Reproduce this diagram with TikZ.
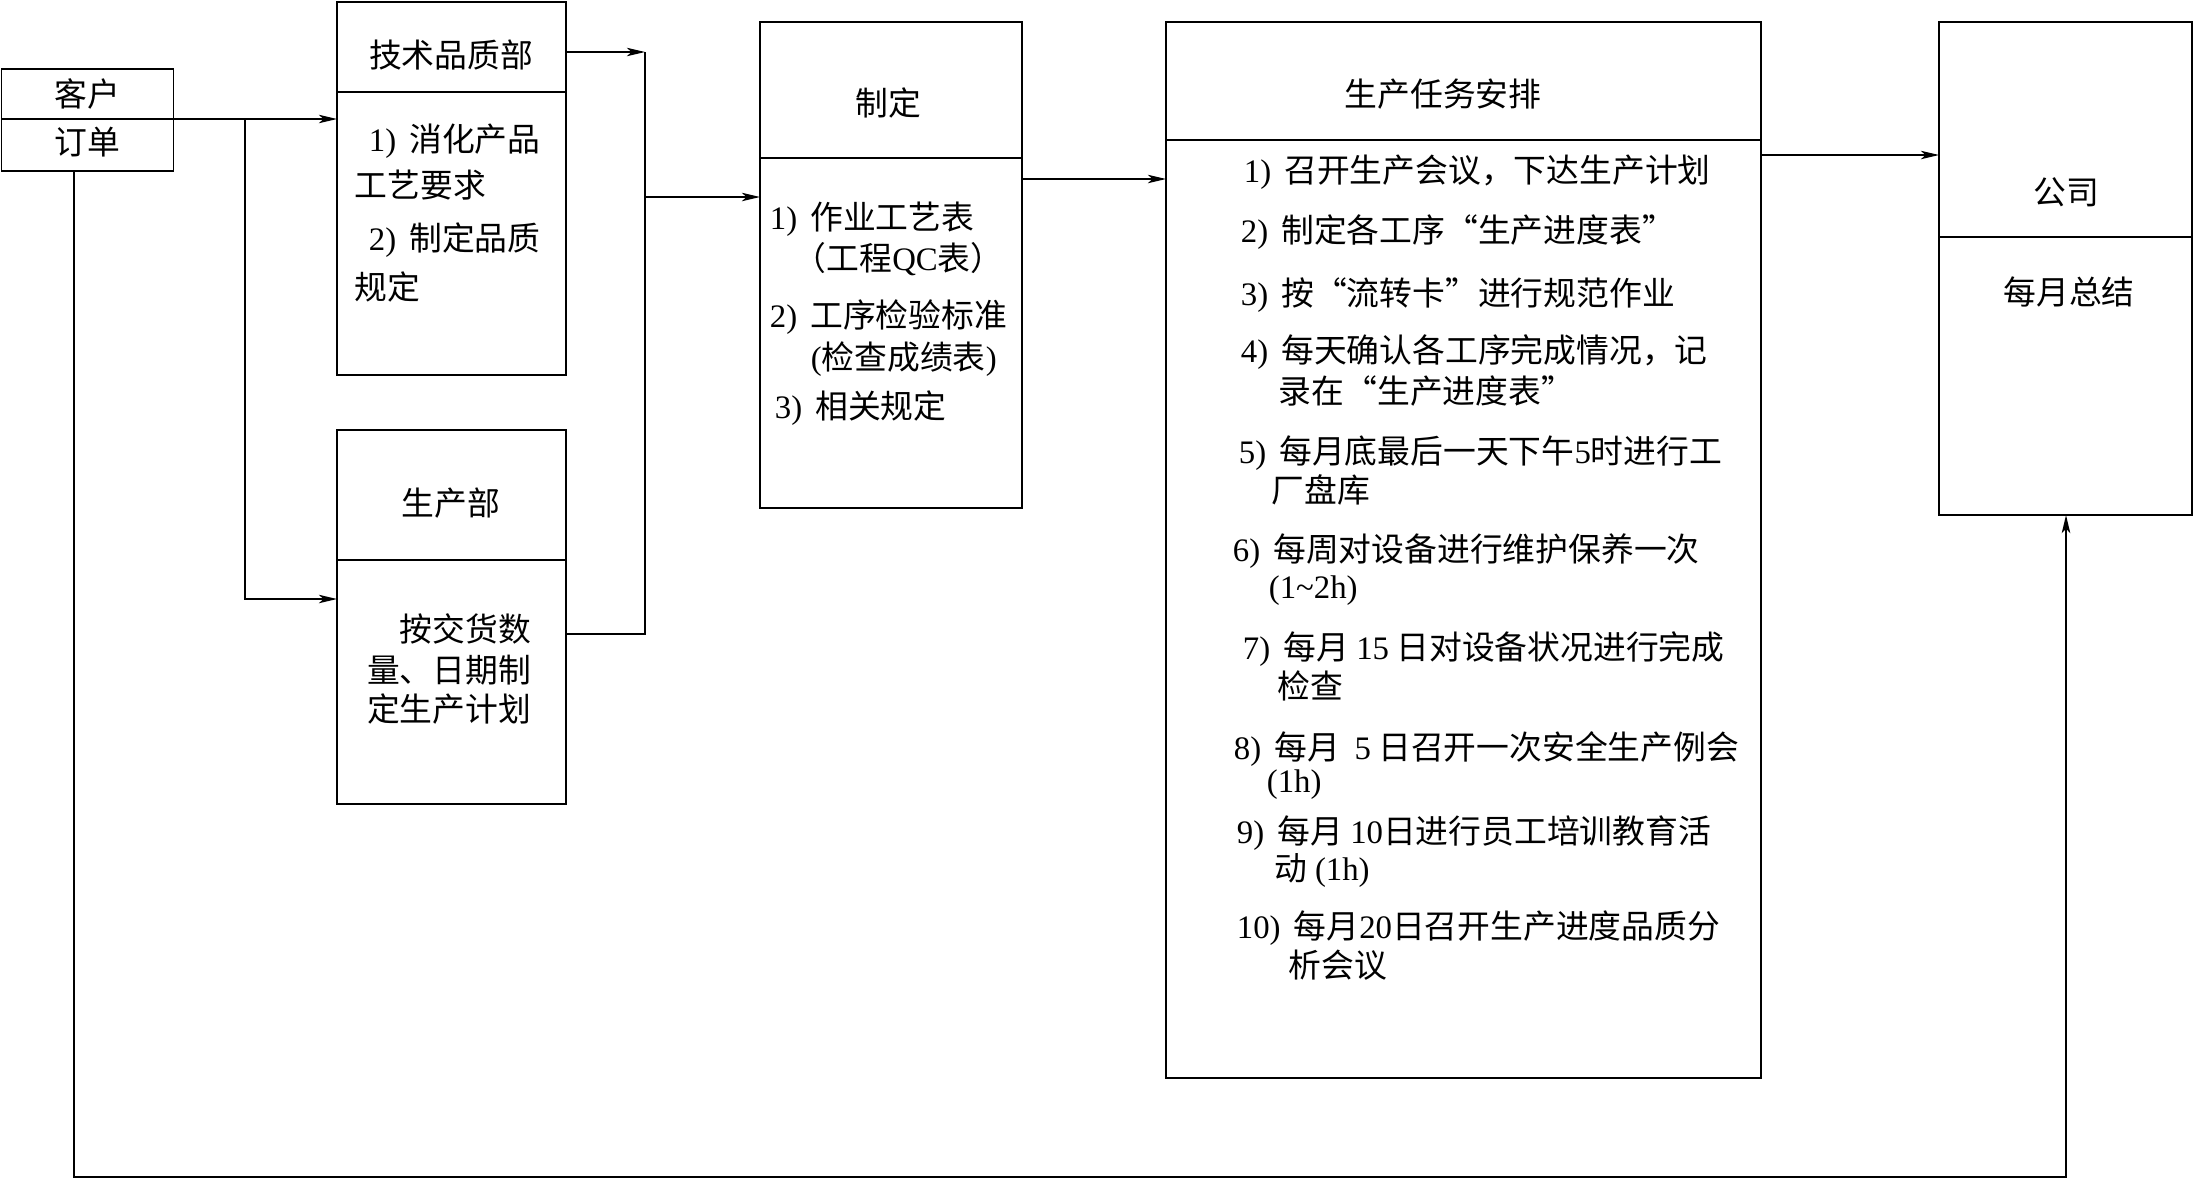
\documentclass[tikz,border=0pt]{standalone}
\usepackage{fontspec}
\setmainfont{Noto Sans CJK SC}
\newfontfamily\latinf{Liberation Serif}
\usetikzlibrary{arrows.meta}
\newcommand\latx[1]{{\latinf #1}}
\newcommand\nm[1]{{\latinf #1}\hspace{0.4em}}
\begin{document}
\begin{tikzpicture}[x=0.5pt,y=-0.5pt, line width=0.85pt,
 box/.style={draw, rectangle, anchor=north west, inner sep=0pt, outer sep=0pt},
 txt/.style={inner sep=0pt, anchor=west, text height=14pt, text depth=2.5pt, font=\fontsize{16.4pt}{20pt}\selectfont},
 ctr/.style={txt, anchor=center},
 arr/.style={-{Stealth[length=9pt,width=4.2pt,inset=2.2pt]}}]
\useasboundingbox (0,0) rectangle (2195,1180);

% boxes
\node[box, minimum width=86pt, minimum height=25pt] (cust) at (1.5,69) {};
\node[box, minimum width=86pt, minimum height=26pt] (order) at (1.5,119) {};
\node[box, minimum width=114.5pt, minimum height=45pt] (th) at (337,2) {};
\node[box, minimum width=114.5pt, minimum height=141.5pt] (tb) at (337,92) {};
\node[box, minimum width=114.5pt, minimum height=65pt] (ph) at (337,430) {};
\node[box, minimum width=114.5pt, minimum height=122pt] (pb) at (337,560) {};
\node[box, minimum width=131pt, minimum height=68pt] (zh) at (760,22) {};
\node[box, minimum width=131pt, minimum height=175pt] (zb) at (760,158) {};
\node[box, minimum width=297.5pt, minimum height=59pt] (sh) at (1166,22) {};
\node[box, minimum width=297.5pt, minimum height=469pt] (sb) at (1166,140) {};
\node[box, minimum width=126.5pt, minimum height=107.5pt] (ch) at (1939,22) {};
\node[box, minimum width=126.5pt, minimum height=139pt] (cb) at (1939,237) {};
\draw[line width=1.4pt] (sb.south west) -- (sb.south east);

% connectors
\coordinate (b1) at (245,119);
\coordinate (b2) at (245,599);
\draw[arr] (cust.south east) -- (cust.south east -| tb.west);
\draw[arr] (b1) -- (b2) -- (b2 -| pb.west);
\coordinate (m1) at (645,52);
\coordinate (m2) at (645,634);
\coordinate (m3) at (645,197);
\draw[arr] (m1 -| th.east) -- (m1);
\draw (m1) -- (m2) -- (m2 -| pb.east);
\draw[arr] (m3) -- (m3 -| zb.west);
\coordinate (n1) at (1100,179);
\draw[arr] (n1 -| zb.east) -- (n1 -| sb.west);
\coordinate (n2) at (1850,155);
\draw[arr] (n2 -| sb.east) -- (n2 -| ch.west);
\coordinate (f1) at (74,1177);
\coordinate (f2) at (2066,1177);
\draw[arr, line width=1.2pt] (f1 |- order.south) -- (f1) -- (f2) -- (f2 |- cb.south);

% texts
\node[ctr] (tkh) at (87,95) {客户};
\node[ctr] (tdd) at (87,143) {订单};
\node[ctr] (tjs) at (451,56) {技术品质部};
\node[txt] (tjs1) at (368,140) {\nm{1)}消化产品};
\node[txt] (tjs2) at (354,186) {工艺要求};
\node[txt] (tjs3) at (368,239) {\nm{2)}制定品质};
\node[txt] (tjs4) at (354,288) {规定};
\node[ctr] (tsc) at (451,504) {生产部};
\node[txt, anchor=east] (tsc1) at (532,630) {按交货数};
\node[txt, anchor=east] (tsc2) at (532,671) {量、日期制};
\node[txt, anchor=east] (tsc3) at (532,710) {定生产计划};
\node[ctr] (tzd) at (888,104) {制定};
\node[txt] (tzd1) at (769,218) {\nm{1)}作业工艺表};
\node[txt] (tzd2) at (793,259) {（工程\latx{QC}表）};
\node[txt] (tzd3) at (769,316) {\nm{2)}工序检验标准};
\node[txt] (tzd4) at (810,358) {\latx{(}检查成绩表\latx{)}};
\node[txt] (tzd5) at (774,407) {\nm{3)}相关规定};
\node[ctr] (trw) at (1443,95) {生产任务安排};
\node[txt] (tr1) at (1243,171) {\nm{1)}召开生产会议，下达生产计划};
\node[txt] (tr2) at (1240,231) {\nm{2)}制定各工序“生产进度表”};
\node[txt] (tr3) at (1240,294) {\nm{3)}按“流转卡”进行规范作业};
\node[txt] (tr4) at (1240,351) {\nm{4)}每天确认各工序完成情况，记};
\node[txt] (tr4b) at (1278,392) {录在“生产进度表”};
\node[txt] (tr5) at (1238,452) {\nm{5)}每月底最后一天下午\latx{5}时进行工};
\node[txt] (tr5b) at (1271,491) {厂盘库};
\node[txt] (tr6) at (1232,550) {\nm{6)}每周对设备进行维护保养一次};
\node[txt] (tr6b) at (1268,587) {\latx{(1\textasciitilde 2h)}};
\node[txt] (tr7) at (1242,648) {\nm{7)}每月 \latx{15} 日对设备状况进行完成};
\node[txt] (tr7b) at (1277,687) {检查};
\node[txt] (tr8) at (1233,748) {\nm{8)}每月\ \ \latx{5}\ 日召开一次安全生产例会};
\node[txt] (tr8b) at (1266,781) {\latx{(1h)}};
\node[txt] (tr9) at (1236,832) {\nm{9)}每月 \latx{10}日进行员工培训教育活};
\node[txt] (tr9b) at (1274,869) {动 \latx{(1h)}};
\node[txt] (tr10) at (1236,927) {\nm{10)}每月\latx{20}日召开生产进度品质分};
\node[txt] (tr10b) at (1288,966) {析会议};
\node[ctr] (tgs) at (2066,193) {公司};
\node[ctr] (tzj) at (2069,293) {每月总结};
\end{tikzpicture}
\end{document}
